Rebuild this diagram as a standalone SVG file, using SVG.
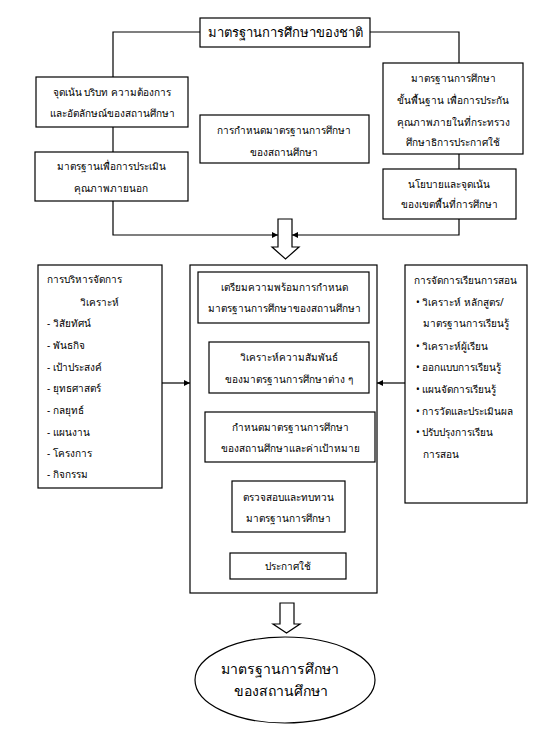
<svg xmlns="http://www.w3.org/2000/svg" width="554" height="754" viewBox="0 0 554 754">
<defs>
<marker id="ah" viewBox="0 0 10 10" refX="10" refY="5" markerWidth="6" markerHeight="6" orient="auto" markerUnits="userSpaceOnUse">
<path d="M0,0 L10,5 L0,10 z" fill="#000"/>
</marker>
<style>
rect, ellipse, .hollow { fill: #fff; stroke: #000; stroke-width: 1.2; }
.ln { fill: none; stroke: #000; stroke-width: 1.2; }
.arr { fill: none; stroke: #000; stroke-width: 1.2; marker-end: url(#ah); }
text { font-family: "Noto Sans", "Liberation Sans", sans-serif; font-size: 10px; fill: #000; }
.c { text-anchor: middle; }
.top { font-size: 13px; }
.big { font-size: 14px; }
</style>
</defs>
<rect x="0" y="0" width="554" height="754" style="fill:#fff;stroke:none"/>

<g id="connectors">
<polyline class="ln" points="200,32 113,32 113,77"/>
<polyline class="ln" points="370,32 459,32 459,63"/>
<line class="ln" x1="113" y1="127" x2="113" y2="152"/>
<line class="ln" x1="459" y1="154" x2="459" y2="169"/>
<polyline class="arr" points="113,201 113,235 278,235"/>
<polyline class="arr" points="459,219 459,235 292,235"/>
<line class="arr" x1="162" y1="383" x2="190" y2="383"/>
<line class="arr" x1="405" y1="383" x2="377" y2="383"/>
<line class="arr" x1="284" y1="323" x2="284" y2="342"/>
<line class="arr" x1="286" y1="393" x2="286" y2="412"/>
<line class="arr" x1="286" y1="462" x2="286" y2="481"/>
<line class="arr" x1="287" y1="532" x2="287" y2="552"/>
<path class="hollow" d="M278,219 L292,219 L292,247 L299,247 L285.5,259 L272,247 L278,247 Z"/>
<path class="hollow" d="M280,603 L294,603 L294,624 L300,624 L286.5,633 L273,624 L280,624 Z"/>
</g>

<g id="national">
<rect x="200" y="18" width="170" height="29"/>
<text class="c top" x="285" y="37">มาตรฐานการศึกษาของชาติ</text>
</g>

<g id="focus">
<rect x="36" y="77" width="152" height="50"/>
<text class="c" x="112" y="96">จุดเน้น บริบท ความต้องการ</text>
<text class="c" x="112" y="117">และอัตลักษณ์ของสถานศึกษา</text>
</g>

<g id="external">
<rect x="35" y="152" width="153" height="49"/>
<text class="c" x="111" y="170">มาตรฐานเพื่อการประเมิน</text>
<text class="c" x="111" y="192">คุณภาพภายนอก</text>
</g>

<g id="setting">
<rect x="200" y="115" width="169" height="48"/>
<text class="c" x="284" y="134">การกำหนดมาตรฐานการศึกษา</text>
<text class="c" x="284" y="156">ของสถานศึกษา</text>
</g>

<g id="basic">
<rect x="383" y="63" width="140" height="91"/>
<text class="c" x="453" y="82">มาตรฐานการศึกษา</text>
<text class="c" x="453" y="104">ขั้นพื้นฐาน เพื่อการประกัน</text>
<text class="c" x="453" y="126">คุณภาพภายในที่กระทรวง</text>
<text class="c" x="453" y="146">ศึกษาธิการประกาศใช้</text>
</g>

<g id="policy">
<rect x="383" y="169" width="133" height="50"/>
<text class="c" x="449" y="188">นโยบายและจุดเน้น</text>
<text class="c" x="449" y="208">ของเขตพื้นที่การศึกษา</text>
</g>

<g id="admin">
<rect x="38" y="265" width="124" height="223"/>
<text x="47" y="283">การบริหารจัดการ</text>
<text class="c" x="99" y="306">วิเคราะห์</text>
<text x="47" y="327">- วิสัยทัศน์</text>
<text x="47" y="349">- พันธกิจ</text>
<text x="47" y="371">- เป้าประสงค์</text>
<text x="47" y="392">- ยุทธศาสตร์</text>
<text x="47" y="414">- กลยุทธ์</text>
<text x="47" y="436">- แผนงาน</text>
<text x="47" y="457">- โครงการ</text>
<text x="47" y="478">- กิจกรรม</text>
</g>

<g id="process">
<rect x="190" y="265" width="187" height="328"/>
</g>

<g id="prepare">
<rect x="198" y="272" width="171" height="51"/>
<text class="c" x="284" y="291">เตรียมความพร้อมการกำหนด</text>
<text class="c" x="284" y="312">มาตรฐานการศึกษาของสถานศึกษา</text>
</g>

<g id="analyze">
<rect x="209" y="342" width="160" height="51"/>
<text class="c" x="289" y="361">วิเคราะห์ความสัมพันธ์</text>
<text class="c" x="289" y="383">ของมาตรฐานการศึกษาต่าง  ๆ</text>
</g>

<g id="define">
<rect x="205" y="412" width="170" height="50"/>
<text class="c" x="290" y="431">กำหนดมาตรฐานการศึกษา</text>
<text class="c" x="290" y="452">ของสถานศึกษาและค่าเป้าหมาย</text>
</g>

<g id="review">
<rect x="232" y="481" width="113" height="51"/>
<text class="c" x="288" y="501">ตรวจสอบและทบทวน</text>
<text class="c" x="288" y="522">มาตรฐานการศึกษา</text>
</g>

<g id="announce">
<rect x="230" y="553" width="116" height="26"/>
<text class="c" x="288" y="570">ประกาศใช้</text>
</g>

<g id="teaching">
<rect x="405" y="265" width="122" height="238"/>
<text x="414" y="284">การจัดการเรียนการสอน</text>
<text x="416" y="306">• วิเคราะห์ หลักสูตร/</text>
<text x="423" y="327">มาตรฐานการเรียนรู้</text>
<text x="416" y="350">• วิเคราะห์ผู้เรียน</text>
<text x="416" y="371">• ออกแบบการเรียนรู้</text>
<text x="416" y="393">• แผนจัดการเรียนรู้</text>
<text x="416" y="415">• การวัดและประเมินผล</text>
<text x="416" y="436">• ปรับปรุงการเรียน</text>
<text x="423" y="458">การสอน</text>
</g>

<g id="result">
<ellipse cx="285" cy="680" rx="90" ry="43"/>
<text class="c big" x="280" y="674">มาตรฐานการศึกษา</text>
<text class="c big" x="281" y="696">ของสถานศึกษา</text>
</g>
</svg>
